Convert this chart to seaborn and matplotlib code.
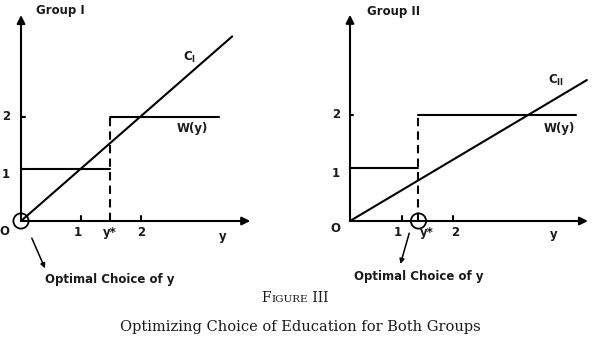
import matplotlib
matplotlib.use("Agg")
import matplotlib.pyplot as plt
import seaborn as sns

sns.set_style("white")
plt.rcParams['font.family'] = ['DejaVu Sans']
plt.rcParams['mathtext.fontset'] = 'dejavusans'

# values (education level y, wage / cost)
ticks_x = [1, 2]
ticks_y = [1, 2]
wage_low, wage_high = 1, 2

# group I
ystar_1 = 1.48
c1_x = [0, 3.52]
c1_y = [0, 3.55]
w1_end = 3.3
xmax_1, ymax_1 = 3.82, 3.96

# group II
ystar_2 = 1.33
c2_x = [0, 4.6]
c2_y = [0, 2.66]
w2_end = 4.39
xmax_2, ymax_2 = 4.62, 3.89

W, H = 600, 363
fig = plt.figure(figsize=(W / 100, H / 100), dpi=100)


def frame(origin, sx, sy, xlim, ylim):
    ax = fig.add_axes([(origin[0] + xlim[0] * sx) / W,
                       (H - origin[1] + ylim[0] * sy) / H,
                       (xlim[1] - xlim[0]) * sx / W,
                       (ylim[1] - ylim[0]) * sy / H])
    ax.set_xlim(xlim)
    ax.set_ylim(ylim)
    ax.axis('off')
    return ax


ax1 = frame((21, 221), 60, 52, (-0.35, 4.5), (-1.3, 4.2))
ax2 = frame((350, 221), 51.5, 53, (-0.97, 4.85), (-1.3, 4.2))

lw = 1.5
txt = dict(fontsize=8.5, fontweight='bold', color='#1a1a1a')


def panel(ax, ystar, cx, cy, wend, xmax, ymax, name, cname, lab):
    # axes with arrow heads
    ax.annotate('', xy=(xmax, 0), xytext=(0, 0),
                arrowprops=dict(arrowstyle='-|>', color='black', lw=lw,
                                mutation_scale=12, shrinkA=0, shrinkB=0))
    ax.annotate('', xy=(0, ymax), xytext=(0, 0),
                arrowprops=dict(arrowstyle='-|>', color='black', lw=lw,
                                mutation_scale=12, shrinkA=0, shrinkB=0))
    for t in ticks_x:
        ax.plot([t, t], [0, 0.1], color='black', lw=lw)
    for t in ticks_y:
        ax.plot([0, 0.06], [t, t], color='black', lw=lw)

    # cost line
    sns.lineplot(x=cx, y=cy, ax=ax, color='black', lw=lw)
    # wage schedule W(y)
    sns.lineplot(x=[0, ystar], y=[wage_low, wage_low], ax=ax, color='black', lw=lw)
    sns.lineplot(x=[ystar, wend], y=[wage_high, wage_high], ax=ax, color='black', lw=lw)
    ax.plot([ystar, ystar], [0, wage_high], color='black', lw=lw,
            dashes=(4, 2.5))

    ax.text(*lab['group'], name, ha='center', va='center', **txt)
    ax.text(*lab['c'], cname, ha='center', va='center', **txt)
    ax.text(*lab['w'], 'W(y)', ha='center', va='center', **txt)
    ax.text(*lab['o'], 'O', ha='center', va='center', **txt)
    ax.text(lab['t1'], lab['ty'], '1', ha='center', va='center', **txt)
    ax.text(lab['ts'], lab['ty'], 'y*', ha='center', va='center', **txt)
    ax.text(lab['t2'], lab['ty'], '2', ha='center', va='center', **txt)
    ax.text(*lab['y'], 'y', ha='center', va='center', **txt)
    ax.text(lab['yl'], 2, '2', ha='center', va='center', **txt)
    ax.text(lab['yl'], 0.9, '1', ha='center', va='center', **txt)

    # optimal choice marker
    ax.scatter([lab['opt']], [0], s=120, facecolors='none', edgecolors='black',
               linewidths=1.3, zorder=5)
    ax.annotate('', xy=lab['a1'], xytext=lab['a0'],
                arrowprops=dict(arrowstyle='-|>', color='black', lw=1.1,
                                mutation_scale=7, shrinkA=0, shrinkB=0))
    ax.text(*lab['ot'], 'Optimal Choice of y', ha='center', va='center', **txt)


panel(ax1, ystar_1, c1_x, c1_y, w1_end, xmax_1, ymax_1, 'Group I', r'C$_\mathbf{I}$',
      dict(group=(0.65, 4.04), c=(2.8, 3.15), w=(2.85, 1.77), o=(-0.28, -0.21),
           t1=0.95, ts=ystar_1, t2=2.0, ty=-0.23, y=(3.37, -0.29), yl=-0.25,
           opt=0, a0=(0.18, -0.33), a1=(0.4, -0.91), ot=(1.48, -1.13)))

panel(ax2, ystar_2, c2_x, c2_y, w2_end, xmax_2, ymax_2, 'Group II', r'C$_\mathbf{II}$',
      dict(group=(0.85, 3.96), c=(4.0, 2.66), w=(4.06, 1.75), o=(-0.29, -0.15),
           t1=0.93, ts=1.49, t2=2.04, ty=-0.22, y=(3.96, -0.26), yl=-0.27,
           opt=ystar_2, a0=(1.15, -0.23), a1=(0.98, -0.81), ot=(1.34, -1.04)))

# caption, "Figure" in small capitals
cap = dict(family='DejaVu Serif', color='#1a1a1a')
fig.canvas.draw()
r = fig.canvas.get_renderer()
parts = [('F', 10), ('IGURE', 7.5), (' III', 10)]
widths = []
for s, fs in parts:
    t = fig.text(0, 0, s, fontsize=fs, **cap)
    widths.append(t.get_window_extent(r).width)
    t.remove()
x = 295 - sum(widths) / 2
for (s, fs), w in zip(parts, widths):
    fig.text(x / W, 1 - 302 / H, s, fontsize=fs, ha='left', va='baseline', **cap)
    x += w
fig.text(0.5, 1 - 327 / H, 'Optimizing Choice of Education for Both Groups',
         fontsize=10.5, ha='center', va='center', **cap)

fig.savefig('out.png', dpi=100, facecolor='white')
